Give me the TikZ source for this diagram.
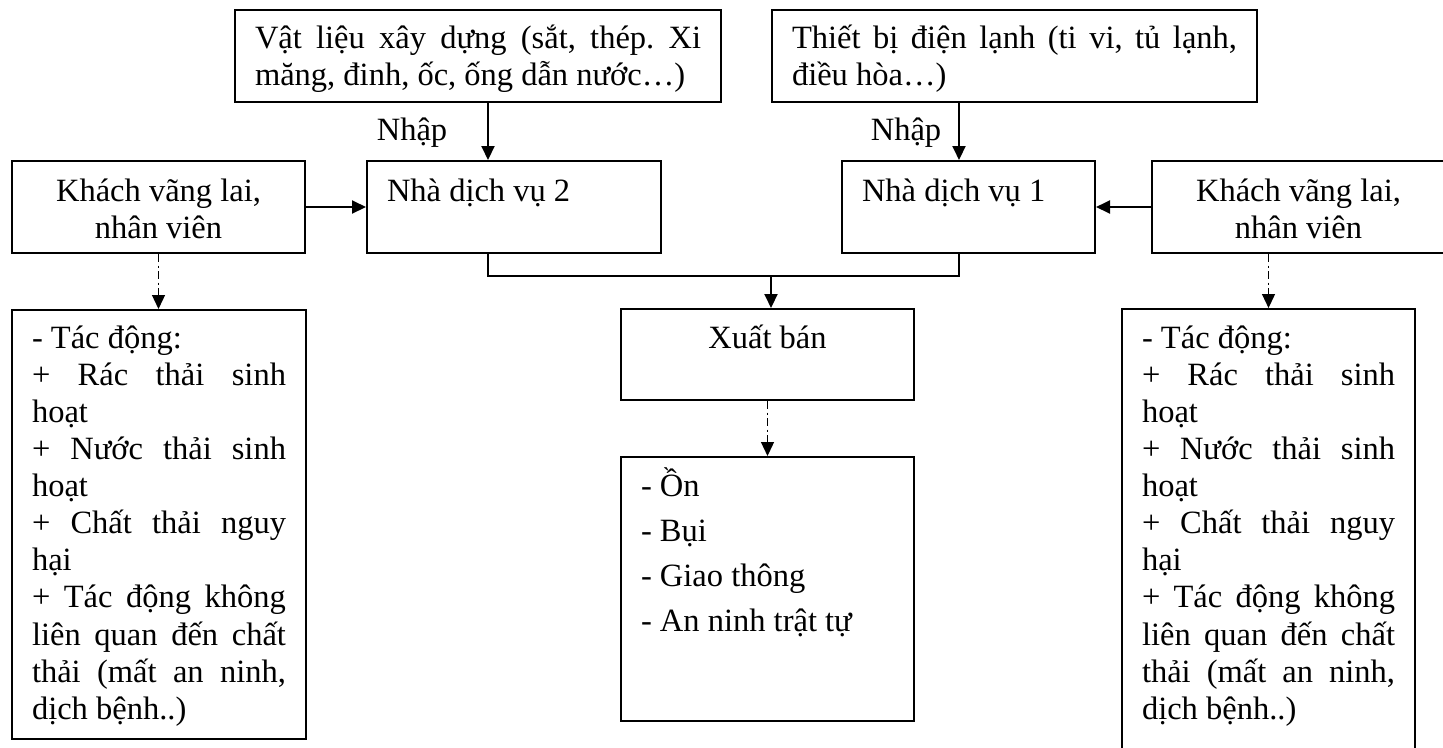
\documentclass[tikz,border=0pt]{standalone}
\usepackage{fontspec}
\setmainfont{Liberation Serif}
\usepackage{tikz}
\usetikzlibrary{arrows.meta}
\hyphenpenalty=10000
\tolerance=10000
\frenchspacing
% #1 text width, #2 box height, #3 first baseline, #4 text
\newcommand{\boxtxt}[4]{\parbox[c][#2][t]{#1}{\rule{0pt}{#3}#4}}

\begin{document}
\begin{tikzpicture}[x=0.4pt,y=-0.4pt,>={Triangle[length=5.6pt,width=5.2pt]},
		font=\fontsize{13pt}{15pt}\selectfont,
		box node/.style={draw,line width=0.8pt,inner xsep=8pt,inner ysep=0pt,anchor=north west},
		flow line/.style={->,line width=0.8pt},
		impact line/.style={->,line width=0.5pt,dash pattern=on 3.2pt off 1.4pt on 0.8pt off 1.4pt}]
		\useasboundingbox (0,0) rectangle (1443,747);
		\clip (0,0) rectangle (1443,747);
		% inputs
		\node[box node] (vl) at (234,9) {\boxtxt{178.4pt}{36.8pt}{15.2pt}{Vật liệu xây dựng (sắt, thép. Xi\linebreak măng, đinh, ốc, ống dẫn nước…)}};
		\node[box node] (tb) at (771,9) {\boxtxt{178pt}{36.8pt}{15.2pt}{Thiết bị điện lạnh (ti vi, tủ lạnh,\linebreak điều hòa…)}};
		\node[anchor=base west] (n2) at (368,140) {Nhập};
		\node[anchor=base west] (n1) at (862,140) {Nhập};
		% service houses
		\node[box node] (kl) at (11,160) {\boxtxt{101.2pt}{36.8pt}{16pt}{\centering Khách vãng lai,\\ nhân viên}};
		\node[box node] (dv2) at (366,160) {\boxtxt{101.6pt}{36.8pt}{16pt}{Nhà dịch vụ 2}};
		\node[box node] (dv1) at (841,160) {\boxtxt{85.2pt}{36.8pt}{16pt}{Nhà dịch vụ 1}};
		\node[box node] (kr) at (1151,160) {\boxtxt{101.2pt}{36.8pt}{16pt}{\centering Khách vãng lai,\\ nhân viên}};
		\node[box node] (xb) at (620,308) {\boxtxt{101.2pt}{36.4pt}{15.6pt}{\centering Xuất bán}};
		% impacts
		\node[box node] (lb) at (11,309) {\boxtxt{101.6pt}{171.6pt}{15.2pt}{\baselineskip=14.85pt
				- Tác động:\\
				+ Rác thải sinh\linebreak hoạt\\
				+ Nước thải sinh\linebreak hoạt\\
				+ Chất thải nguy\linebreak hại\\
				+ Tác động không\linebreak liên quan đến chất\linebreak thải (mất an ninh,\linebreak dịch bệnh..)}};
		\node[box node] (ct) at (620,456) {\boxtxt{101.2pt}{105.6pt}{15.6pt}{\baselineskip=18pt
				- Ồn\\
				- Bụi\\
				- Giao thông\\
				- An ninh trật tự}};
		\node[box node] (rb) at (1121,308) {\boxtxt{101.2pt}{180.8pt}{15.6pt}{\baselineskip=14.85pt
				- Tác động:\\
				+ Rác thải sinh\linebreak hoạt\\
				+ Nước thải sinh\linebreak hoạt\\
				+ Chất thải nguy\linebreak hại\\
				+ Tác động không\linebreak liên quan đến chất\linebreak thải (mất an ninh,\linebreak dịch bệnh..)}};
		\coordinate (a2) at (488,0);
		\coordinate (a1) at (959,0);
		\coordinate (jn) at (771,276);
		\draw[flow line] (vl.south -| a2) -- (dv2.north -| a2);
		\draw[flow line] (tb.south -| a1) -- (dv1.north -| a1);
		\draw[flow line] (kl.east) -- (dv2.west);
		\draw[flow line] (kr.west) -- (dv1.east);
		\draw[line width=0.8pt] (dv2.south -| a2) |- (jn) -| (dv1.south -| a1);
		\draw[flow line] (jn) -- (xb.north -| jn);
		\draw[impact line] (kl.south) -- (kl.south |- lb.north);
		\draw[impact line] (xb.south) -- (ct.north);
		\draw[impact line] (kr.south -| rb.north) -- (rb.north);
		\end{tikzpicture}
\end{document}
